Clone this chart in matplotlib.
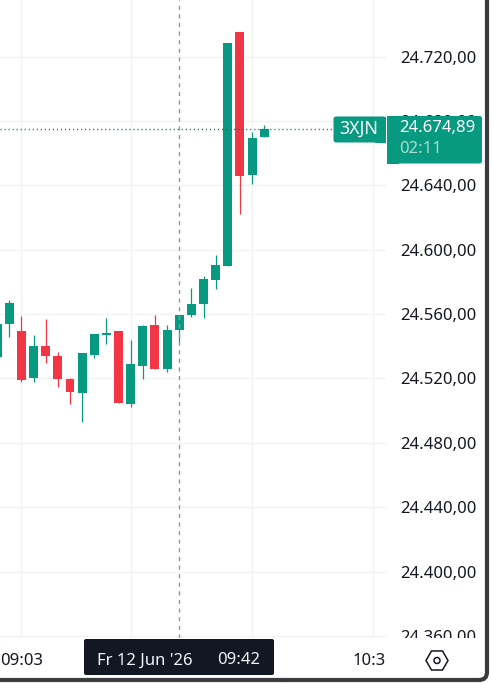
import matplotlib
matplotlib.use('Agg')
import matplotlib.pyplot as plt
from matplotlib.patches import FancyBboxPatch, Rectangle, RegularPolygon, Circle
from matplotlib.transforms import Bbox

W, H = 492, 684
GREEN = '#089981'
RED = '#F23645'
GRID = '#F3F3F4'
TEXT = '#131722'

plt.rcParams['font.family'] = ['Noto Sans', 'DejaVu Sans']

# 3 minute candles, index 14 is the 09:42 one under the crosshair
candle_index = list(range(-1, 22))
opens = [24533.4, 24553.9, 24549.5, 24520.3, 24540.2, 24534.0, 24519.7, 24511.0, 24534.6, 24547.0, 24549.5, 24504.2, 24527.8, 24553.2, 24525.9, 24550.1, 24559.4, 24566.3, 24581.2, 24589.9, 24735.2, 24646.4, 24670.0]
closes = [24553.9, 24566.9, 24519.1, 24540.2, 24534.0, 24519.7, 24511.6, 24535.8, 24547.6, 24548.3, 24504.8, 24529.0, 24552.6, 24525.9, 24550.1, 24559.4, 24566.3, 24581.8, 24590.5, 24728.4, 24645.8, 24669.4, 24675.0]
highs = [24553.9, 24568.8, 24558.8, 24547.0, 24557.0, 24536.5, 24520.3, 24535.8, 24547.6, 24557.6, 24549.5, 24543.9, 24553.2, 24559.4, 24553.2, 24559.4, 24576.2, 24583.7, 24596.7, 24728.4, 24735.2, 24673.1, 24677.5]
lows = [24533.4, 24545.8, 24517.8, 24517.8, 24529.6, 24514.7, 24504.2, 24493.0, 24532.7, 24541.4, 24504.8, 24502.3, 24519.7, 24525.9, 24524.0, 24542.7, 24558.2, 24557.6, 24575.6, 24589.9, 24622.2, 24640.8, 24670.0]

price_ticks = [24360, 24400, 24440, 24480, 24520, 24560, 24600, 24640, 24680, 24720]
price_labels = ['24.360,00', '24.400,00', '24.440,00', '24.480,00', '24.520,00', '24.560,00', '24.600,00', '24.640,00', '24.680,00', '24.720,00']
time_ticks = [1, 10, 20, 30]
time_labels = ['09:03', '', '', '10:30']
last_price = 24674.89
cross_index = 14

fig = plt.figure(figsize=(W / 100, H / 100), dpi=100, facecolor='white')

# main pane, 386 wide and 638 high in pixels
ax = fig.add_axes([0, 1 - 638 / H, 386 / W, 638 / H])
ax.set_xlim(-0.766, 31.03)
ax.set_ylim(24358.8, 24755.1)
for s in ax.spines.values():
    s.set_visible(False)

ax.yaxis.tick_right()
ax.set_yticks(price_ticks)
ax.set_yticklabels(price_labels, fontsize=12, color=TEXT)
ax.tick_params(axis='y', length=0, pad=10)
ax.set_xticks(time_ticks)
ax.tick_params(axis='x', length=0, labelbottom=False)
ax.grid(True, color=GRID, linewidth=1)
ax.set_axisbelow(True)

# the lowest price label is cut off by the time scale
clip = Bbox([[0, H - 637.5], [W, H]])
for lab in ax.get_yticklabels():
    lab.set_clip_box(clip)
    lab.set_clip_on(True)

for i, o, c, h, l in zip(candle_index, opens, closes, highs, lows):
    col = GREEN if c >= o else RED
    ax.plot([i, i], [l, h], color=col, linewidth=0.9, solid_capstyle='butt', zorder=3)
    ax.bar(i, abs(c - o), bottom=min(o, c), width=0.74, color=col, linewidth=0, zorder=4)

ax.axvline(cross_index, color='#9598A1', linewidth=1, dashes=(3, 3.2), zorder=5)
ax.axhline(last_price, color='#0A6F5E', linewidth=1, dashes=(0.8, 2.1), zorder=5)

# time scale strip
tax = fig.add_axes([0, 1 - 678 / H, 386 / W, 40 / H], sharex=ax)
tax.set_ylim(0, 1)
tax.set_yticks([])
for s in tax.spines.values():
    s.set_visible(False)
tax.set_xticks(time_ticks)
tax.set_xticklabels(time_labels, fontsize=12, color=TEXT)
tax.tick_params(axis='x', length=0, labelbottom=True, pad=-18)
tclip = Bbox([[0, 0], [384.5, H]])
for lab in tax.get_xticklabels():
    lab.set_clip_box(tclip)
    lab.set_clip_on(True)

# overlay in pixel coordinates for the labels and the window frame
ui = fig.add_axes([0, 0, 1, 1], facecolor='none')
ui.set_xlim(0, W)
ui.set_ylim(H, 0)
ui.axis('off')

ui.add_patch(FancyBboxPatch((333.5, 116.5), 52.5, 26, boxstyle='round,pad=0,rounding_size=2.5', fc=GREEN, ec='none'))
ui.add_patch(Rectangle((375, 116.5), 11, 26, fc=GREEN, ec='none'))
ui.text(358.5, 129, '3XJN', color='white', fontsize=12.8, ha='center', va='center')

ui.add_patch(FancyBboxPatch((387, 116), 95, 47.5, boxstyle='round,pad=0,rounding_size=2.5', fc=GREEN, ec='none'))
ui.add_patch(Rectangle((387, 116), 12, 47.5, fc=GREEN, ec='none'))
ui.text(399.5, 128, '24.674,89', color='white', fontsize=12, ha='left', va='center')
ui.text(399.5, 149, '02:11', color='#A9DDD2', fontsize=12, ha='left', va='center')

ui.add_patch(FancyBboxPatch((84, 639), 190, 36, boxstyle='round,pad=0,rounding_size=2', fc=TEXT, ec='none'))
ui.text(97, 660.5, "Fr 12 Jun '26", color='#F0F3FA', fontsize=12, ha='left', va='center')
ui.text(260, 660.5, '09:42', color='#F0F3FA', fontsize=12, ha='right', va='center')

# settings icon
ui.add_patch(RegularPolygon((437, 660.5), 6, radius=11, orientation=3.14159 / 2, fc='none', ec=TEXT, lw=1.1))
ui.add_patch(Circle((437, 660.5), 3, fc='none', ec=TEXT, lw=1.1))

# window frame
ui.add_patch(FancyBboxPatch((-30, -30), 517, 710, boxstyle='round,pad=0,rounding_size=8', fc='none', ec='#3A3B3E', lw=3))

fig.savefig('out.png', dpi=100, facecolor='white')
